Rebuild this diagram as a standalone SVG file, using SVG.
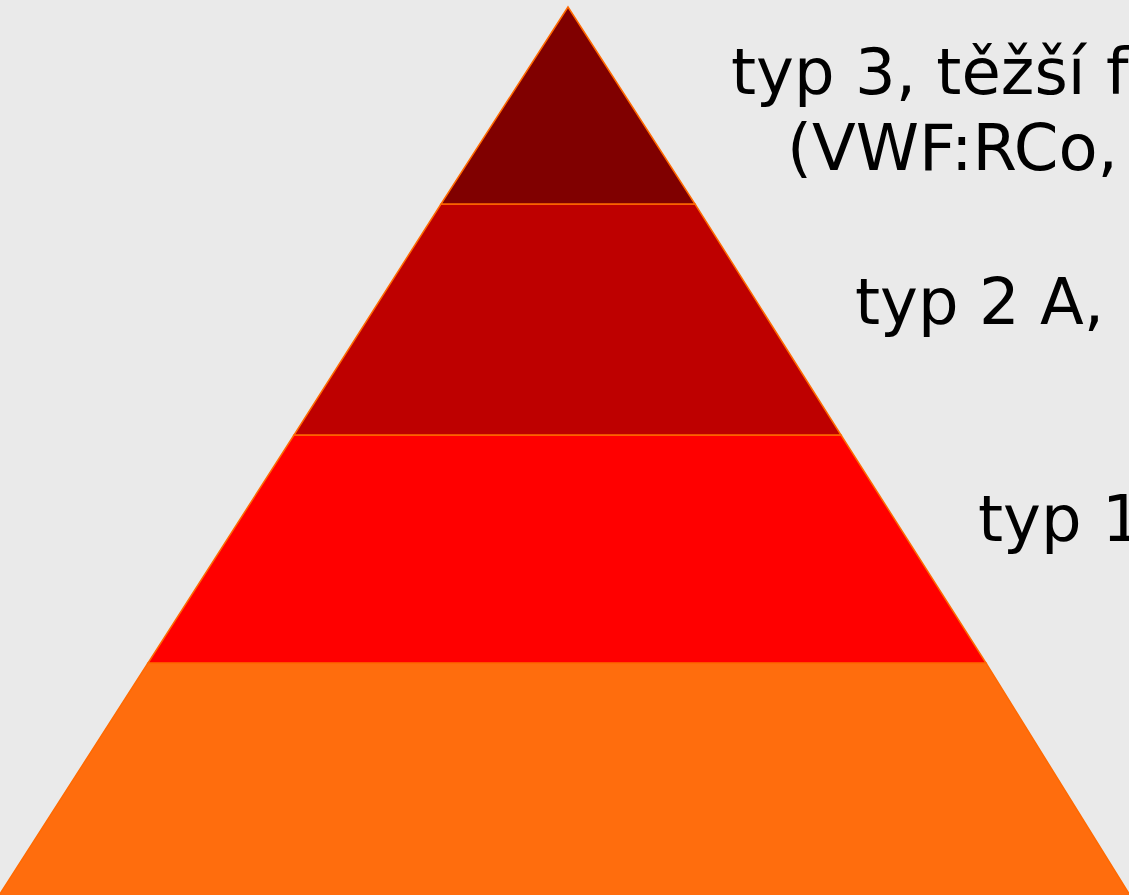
<svg xmlns="http://www.w3.org/2000/svg" width="1129" height="895" viewBox="0 0 1129 895">
  <style>
    .band { stroke: #FF6A00; stroke-width: 1.5; stroke-linejoin: miter; }
    .label { font-family: "DejaVu Sans", Verdana, sans-serif; font-size: 64px; fill: #000000; }
  </style>
  <rect x="0" y="0" width="1129" height="895" fill="#EAEAEA"/>

  <!-- pyramid levels, bottom to top -->
  <g id="level-base">
    <polygon class="band" points="148,663 986,663 1131,897 -2,897" fill="#FF6D0D" stroke="#FF6D0D"/>
  </g>
  <g id="level-1">
    <polygon class="band" points="294,435 841,435 986,663 148,663" fill="#FF0000"/>
  </g>
  <g id="level-2">
    <polygon class="band" points="441,204 695,204 841,435 294,435" fill="#BE0000"/>
  </g>
  <g id="level-3">
    <polygon class="band" points="568,7 695,204 441,204" fill="#800000"/>
  </g>

  <!-- level captions -->
  <g id="caption-3">
    <text class="label" x="731" y="94">typ 3, těžší f</text>
    <text class="label" x="787" y="170">(VWF:RCo,</text>
  </g>
  <g id="caption-2">
    <text class="label" x="855" y="324">typ 2 A,</text>
  </g>
  <g id="caption-1">
    <text class="label" x="978" y="541">typ 1</text>
  </g>
</svg>
